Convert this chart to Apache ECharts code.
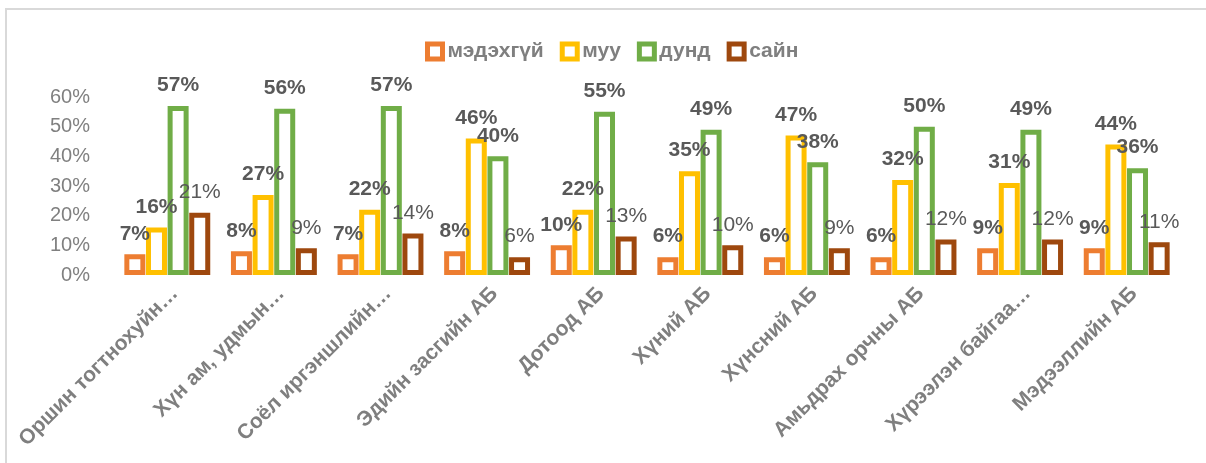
<!DOCTYPE html>
<html>
<head>
<meta charset="utf-8">
<style>
  html, body { margin: 0; padding: 0; background: #fff; overflow: hidden; }
  #frame { position: absolute; left: 5px; top: 8px; width: 1199px; height: 453px;
           border-top: 2px solid #d9d9d9; border-left: 2px solid #d9d9d9; }
  #main { position: absolute; left: 0; top: 0; width: 1206px; height: 463px; }
</style>
<script src="https://cdn.jsdelivr.net/npm/echarts@6/dist/echarts.min.js"></script>
</head>
<body>
<div id="frame"></div>
<div id="main"></div>
<script>
var categories = ['Оршин тогтнохуйн…', 'Хүн ам, удмын…', 'Соёл иргэншлийн…', 'Эдийн засгийн АБ', 'Дотоод АБ',
    'Хүний АБ', 'Хүнсний АБ', 'Амьдрах орчны АБ', 'Хүрээлэн байгаа…', 'Мэдээллийн АБ'];
var seriesNames = ['мэдэхгүй', 'муу', 'дунд', 'сайн'];
var medehgui = [7, 8, 7, 8, 10, 6, 6, 6, 9, 9];
var muu = [16, 27, 22, 46, 22, 35, 47, 32, 31, 44];
var dund = [57, 56, 57, 40, 55, 49, 38, 50, 49, 36];
var sain = [21, 9, 14, 6, 13, 10, 9, 12, 12, 11];
var yTicks = [0, 10, 20, 30, 40, 50, 60];

var colors = ['#ED7D31', '#FFC000', '#70AD47', '#9E480E'];
var font = '"Liberation Sans", Arial, sans-serif';

var chart = echarts.init(document.getElementById('main'));

function makeSeries(i, data, bold) {
    return {
        name: seriesNames[i],
        type: 'bar',
        data: data,
        barWidth: 21,
        barGap: '3%',
        itemStyle: {
            color: '#fff',
            borderColor: colors[i],
            borderWidth: 5
        },
        label: {
            show: true,
            position: 'top',
            distance: 10,
            formatter: '{c}%',
            color: '#595959',
            fontFamily: font,
            fontSize: 21,
            fontWeight: bold ? 'bold' : 'normal'
        }
    };
}

var option = {
    backgroundColor: 'transparent',
    animation: false,
    color: colors,
    legend: {
        data: seriesNames,
        top: 36,
        left: 420,
        itemWidth: 15,
        itemHeight: 15,
        itemGap: 16,
        icon: 'rect',
        itemStyle: { borderWidth: 5 },
        textStyle: {
            color: '#7f7f7f',
            fontFamily: font,
            fontSize: 21,
            fontWeight: 'bold'
        }
    },
    grid: {
        left: 114,
        right: 26,
        top: 97,
        bottom: 188
    },
    xAxis: {
        type: 'category',
        data: categories,
        axisLine: { show: false },
        axisTick: { show: false },
        axisLabel: {
            interval: 0,
            rotate: 45,
            margin: 8,
            verticalAlign: 'top',
            color: '#7f7f7f',
            fontFamily: font,
            fontSize: 21,
            fontWeight: 'bold'
        }
    },
    yAxis: {
        type: 'value',
        min: yTicks[0],
        max: yTicks[yTicks.length - 1],
        interval: yTicks[1] - yTicks[0],
        axisLine: { show: false },
        axisTick: { show: false },
        splitLine: { show: false },
        axisLabel: {
            margin: 24,
            formatter: '{value}%',
            color: '#808080',
            fontFamily: font,
            fontSize: 20
        }
    },
    series: [
        makeSeries(0, medehgui, true),
        makeSeries(1, muu, true),
        makeSeries(2, dund, true),
        makeSeries(3, sain, false)
    ]
};

chart.setOption(option);

window.onresize = function() {
    chart.resize();
};
</script>
</body>
</html>
